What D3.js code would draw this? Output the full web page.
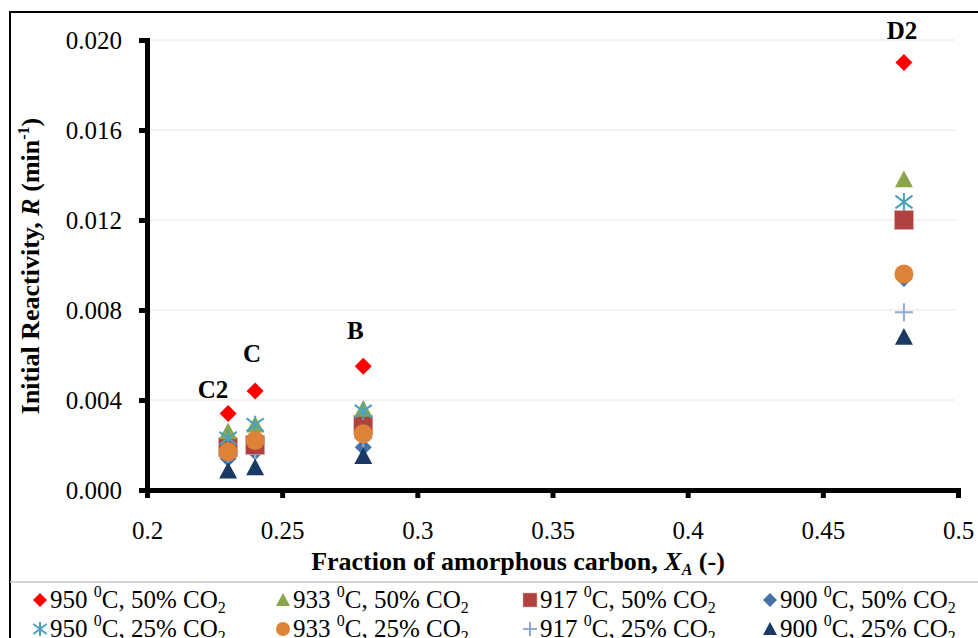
<!DOCTYPE html>
<html>
<head>
<meta charset="utf-8">
<script src="https://cdn.jsdelivr.net/npm/d3@7"></script>
<style>
  html, body { margin: 0; padding: 0; background: #fff; }
  svg { display: block; }
  svg text { font-family: "Liberation Serif", "Times New Roman", serif !important; fill: #000; }
</style>
</head>
<body>
<svg id="chart" width="978" height="638"></svg>
<script>
// Sample fraction of amorphous carbon (x) for C2, C, B, D2
const samples = ["C2", "C", "B", "D2"];
const xa = [0.23, 0.24, 0.28, 0.48];

// Initial reactivity R (min^-1) per condition, one value per sample
const r950_50 = [0.0034, 0.0044, 0.0055, 0.0190];
const r933_50 = [0.0026, 0.0029, 0.0036, 0.0138];
const r917_50 = [0.0019, 0.0020, 0.0029, 0.0120];
const r900_50 = [0.0014, 0.0017, 0.0019, 0.0094];
const r950_25 = [0.0023, 0.0029, 0.0035, 0.0128];
const r933_25 = [0.0017, 0.0022, 0.0025, 0.0096];
const r917_25 = [0.0015, 0.0017, 0.0023, 0.0079];
const r900_25 = [0.00085, 0.0010, 0.0015, 0.0068];

const xTicks = [0.2, 0.25, 0.3, 0.35, 0.4, 0.45, 0.5];
const yTicks = [0, 0.004, 0.008, 0.012, 0.016, 0.020];

const series = [
  { name: "950", co2: "50", values: r950_50, shape: "diamond",  color: "#ff0000", size: 17 },
  { name: "933", co2: "50", values: r933_50, shape: "triangle", color: "#8aa64a", size: 18 },
  { name: "917", co2: "50", values: r917_50, shape: "square",   color: "#b0413e", size: 19 },
  { name: "900", co2: "50", values: r900_50, shape: "diamond",  color: "#4472a8", size: 17 },
  { name: "950", co2: "25", values: r950_25, shape: "star",     color: "#4ba2bd", size: 18 },
  { name: "933", co2: "25", values: r933_25, shape: "circle",   color: "#dd8236", size: 19 },
  { name: "917", co2: "25", values: r917_25, shape: "plus",     color: "#93a9d2", size: 18 },
  { name: "900", co2: "25", values: r900_25, shape: "triangle", color: "#1a3a65", size: 18 }
];
// Plotting order (later series drawn on top)
const plotOrder = [3, 6, 7, 2, 1, 4, 5, 0];

const svg = d3.select("#chart");
const W = 978, H = 638;

const x = d3.scaleLinear().domain([0.2, 0.5]).range([147, 958]);
const y = d3.scaleLinear().domain([0, 0.020]).range([490, 40]);

// Outer chart frame
svg.append("rect").attr("x", 10).attr("y", 12).attr("width", W).attr("height", H)
  .attr("fill", "none").attr("stroke", "#000").attr("stroke-width", 2);

// Gridlines
svg.append("g").selectAll("line").data(yTicks.slice(1)).join("line")
  .attr("x1", 147).attr("x2", 955)
  .attr("y1", d => y(d)).attr("y2", d => y(d))
  .attr("stroke", "#e6e6e6").attr("stroke-width", 1);

// Y axis
const yAxis = d3.axisLeft(y).tickValues(yTicks).tickFormat(d3.format(".3f")).tickSize(8).tickPadding(17);
const gy = svg.append("g").attr("transform", "translate(147,0)").call(yAxis);
gy.select(".domain").attr("stroke", "#000").attr("stroke-width", 5);
gy.selectAll(".tick line").attr("stroke", "#000").attr("stroke-width", 5);
gy.selectAll(".tick text").attr("font-size", 25).attr("dy", "0.33em");

// X axis
const xAxis = d3.axisBottom(x).tickValues(xTicks).tickFormat(d => String(d)).tickSize(8).tickPadding(23);
const gx = svg.append("g").attr("transform", "translate(0,490)").call(xAxis);
gx.select(".domain").attr("stroke", "#000").attr("stroke-width", 5);
gx.selectAll(".tick line").attr("stroke", "#000").attr("stroke-width", 5);
gx.selectAll(".tick text").attr("font-size", 25);

// Axis titles
const xt = svg.append("text").attr("x", 518).attr("y", 570).attr("text-anchor", "middle")
  .attr("font-size", 26).attr("font-weight", "bold");
xt.append("tspan").text("Fraction of amorphous carbon, ");
xt.append("tspan").attr("font-style", "italic").text("X");
xt.append("tspan").attr("font-style", "italic").attr("font-size", 16).attr("dy", 5).text("A");
xt.append("tspan").attr("dy", -5).text(" (-)");

const yt = svg.append("text").attr("transform", "translate(39,266) rotate(-90)")
  .attr("text-anchor", "middle").attr("font-size", 26).attr("font-weight", "bold");
yt.append("tspan").text("Initial Reactivity, ");
yt.append("tspan").attr("font-style", "italic").text("R");
yt.append("tspan").text(" (min");
yt.append("tspan").attr("font-size", 16).attr("dy", -10).text("-1");
yt.append("tspan").attr("dy", 10).text(")");

// Marker drawing
function marker(g, shape, color, s) {
  const h = s / 2;
  if (shape === "diamond") {
    g.append("path").attr("d", `M0,${-h}L${h},0L0,${h}L${-h},0Z`).attr("fill", color);
  } else if (shape === "triangle") {
    g.append("path").attr("d", `M0,${-h}L${h},${h * 0.85}L${-h},${h * 0.85}Z`).attr("fill", color);
  } else if (shape === "square") {
    g.append("rect").attr("x", -h).attr("y", -h).attr("width", s).attr("height", s)
      .attr("fill", color).attr("stroke", "#d9b0ae").attr("stroke-width", 0.6);
  } else if (shape === "circle") {
    g.append("circle").attr("r", h).attr("fill", color);
  } else if (shape === "plus") {
    g.append("path").attr("d", `M${-h},0H${h}M0,${-h}V${h}`).attr("stroke", color).attr("stroke-width", 2).attr("fill", "none");
  } else if (shape === "star") {
    const a = h * 0.95;
    g.append("path").attr("d", `M${-a},${-a * 0.75}L${a},${a * 0.75}M${-a},${a * 0.75}L${a},${-a * 0.75}M0,${-h}V${h}`)
      .attr("stroke", color).attr("stroke-width", 2).attr("fill", "none");
  }
}

// Data points
const pts = svg.append("g");
plotOrder.forEach(si => {
  const s = series[si];
  s.values.forEach((v, i) => {
    const g = pts.append("g").attr("transform", `translate(${x(xa[i])},${y(v)})`);
    marker(g, s.shape, s.color, s.size);
  });
});

// Sample labels above each group's highest marker
const labelOffsets = [[-15, -16], [-3, -29], [-8, -27], [-2, -24]];
svg.append("g").selectAll("text").data(samples).join("text")
  .attr("x", (d, i) => x(xa[i]) + labelOffsets[i][0])
  .attr("y", (d, i) => y(r950_50[i]) + labelOffsets[i][1])
  .attr("text-anchor", "middle").attr("font-size", 25).attr("font-weight", "bold")
  .text(d => d);

// Legend box
svg.append("line").attr("x1", 10).attr("x2", W).attr("y1", 582).attr("y2", 582)
  .attr("stroke", "#c8c8c8").attr("stroke-width", 1.5);

const colX = [40, 283, 530, 770];
const rowY = [600, 629];
const lg = svg.append("g");
series.forEach((s, k) => {
  const cx = colX[k % 4], cy = rowY[Math.floor(k / 4)];
  const g = lg.append("g").attr("transform", `translate(${cx},${cy})`);
  marker(g, s.shape, s.color, 14);
  const t = lg.append("text").attr("x", cx + 10).attr("y", cy + 8).attr("font-size", 25);
  t.append("tspan").text(s.name + " ");
  t.append("tspan").attr("font-size", 16).attr("dy", -11).text("0");
  t.append("tspan").attr("dy", 11).text("C, " + s.co2 + "% CO");
  t.append("tspan").attr("font-size", 16).attr("dy", 5).text("2");
});
</script>
</body>
</html>
